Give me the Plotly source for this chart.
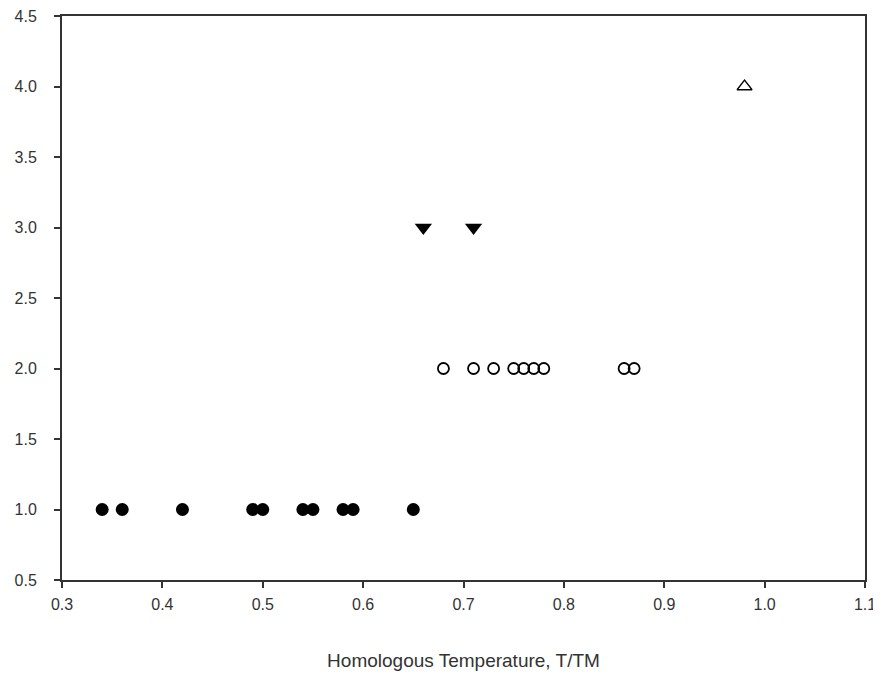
import plotly.graph_objects as go

filled_x = [0.34, 0.36, 0.42, 0.49, 0.50, 0.54, 0.55, 0.58, 0.59, 0.65]
filled_y = [1.0] * len(filled_x)
open_x = [0.68, 0.71, 0.73, 0.75, 0.76, 0.77, 0.78, 0.86, 0.87]
open_y = [2.0] * len(open_x)
tri_down_x = [0.66, 0.71]
tri_down_y = [3.0, 3.0]
tri_up_x = [0.98]
tri_up_y = [4.0]

x_ticks = [0.3, 0.4, 0.5, 0.6, 0.7, 0.8, 0.9, 1.0, 1.1]
y_ticks = [0.5, 1.0, 1.5, 2.0, 2.5, 3.0, 3.5, 4.0, 4.5]

fig = go.Figure()
fig.add_trace(go.Scatter(x=filled_x, y=filled_y, mode="markers",
                         marker=dict(symbol="circle", size=13, color="black", line=dict(width=0))))
fig.add_trace(go.Scatter(x=open_x, y=open_y, mode="markers",
                         marker=dict(symbol="circle-open", size=11, color="black", line=dict(width=1.8))))
fig.add_trace(go.Scatter(x=tri_down_x, y=tri_down_y, mode="markers",
                         marker=dict(symbol="triangle-down", size=15, color="black", line=dict(width=0))))
fig.add_trace(go.Scatter(x=tri_up_x, y=tri_up_y, mode="markers",
                         marker=dict(symbol="triangle-up-open", size=13, color="black", line=dict(width=1.3))))

tick_font = dict(family="Liberation Sans, Arial, sans-serif", size=16, color="#333")
axis_common = dict(showgrid=False, zeroline=False, showline=True, linecolor="#333", linewidth=2,
                   mirror=True, ticks="outside", ticklen=6, tickwidth=1.5, tickcolor="#333",
                   tickfont=tick_font, automargin=False, ticklabeloverflow="allow")

fig.update_layout(
    width=881, height=675,
    margin=dict(l=54, r=24, t=8, b=103),
    paper_bgcolor="white", plot_bgcolor="white",
    showlegend=False,
    xaxis=dict(range=[0.3, 1.1], tickvals=x_ticks, ticktext=[f"{v:.1f}" for v in x_ticks],
               ticklabelstandoff=3,
               title=dict(text="Homologous Temperature, T/TM",
                          font=dict(family="Liberation Sans, Arial, sans-serif", size=19, color="#333"),
                          standoff=41),
               **axis_common),
    yaxis=dict(range=[0.5, 4.5], tickvals=y_ticks, ticktext=[f"{v:.1f}" for v in y_ticks],
               ticklabelstandoff=14,
               **axis_common),
)

fig.write_html("out.html")
